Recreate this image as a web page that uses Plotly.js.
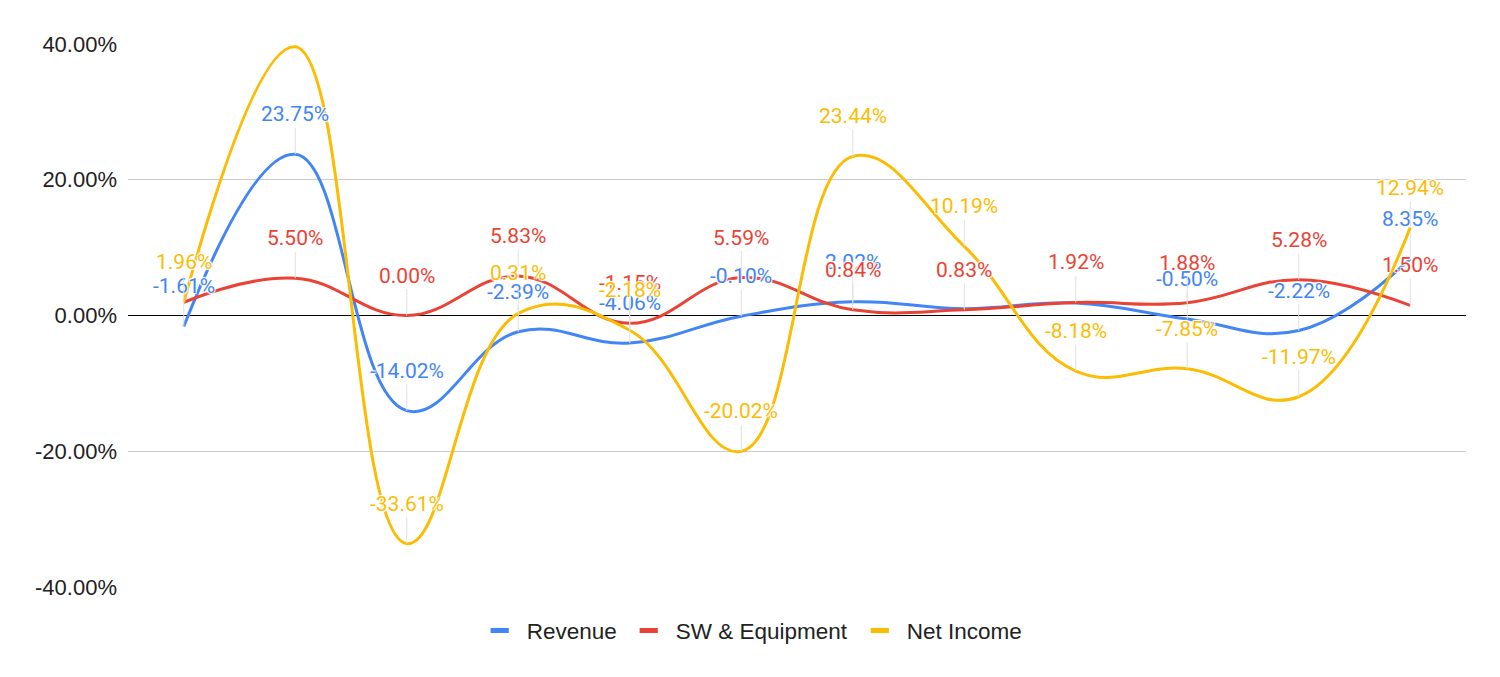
<!DOCTYPE html>
<html>
<head>
<meta charset="utf-8">
<script src="https://cdn.plot.ly/plotly-3.0.1.min.js"></script>
<style>html,body{margin:0;padding:0;background:#fff;}#chart{width:1500px;height:677px;}</style>
</head>
<body>
<div id="chart"></div>
<script>
// ---- data ----
var categories = ["P1","P2","P3","P4","P5","P6","P7","P8","P9","P10","P11","P12"];
var revenue     = [-1.61, 23.75, -14.02, -2.39, -4.06, -0.10, 2.02, 1.00, 1.85, -0.50, -2.22, 8.35];
var swEquipment = [1.95, 5.50, 0.00, 5.83, -1.15, 5.59, 0.84, 0.83, 1.92, 1.88, 5.28, 1.50];
var netIncome   = [1.96, 39.60, -33.61, 0.31, -2.18, -20.02, 23.44, 10.19, -8.18, -7.85, -11.97, 12.94];
var seriesNames = ["Revenue", "SW & Equipment", "Net Income"];
var yTickVals  = [-40, -20, 0, 20, 40];
var yTickText  = ["-40.00%", "-20.00%", "0.00%", "20.00%", "40.00%"];
// indices whose data label is hidden in the original (overlap / off-chart)
var hiddenRevenue = [7, 8];
var hiddenSW = [0];
var hiddenNet = [1];

var colors = ["#4285F4", "#EA4335", "#FBBC04"];
var allSeries = [revenue, swEquipment, netIncome];
var hidden = [hiddenRevenue, hiddenSW, hiddenNet];

var traces = allSeries.map(function(vals, k){
  return {
    type: "scatter", mode: "lines",
    x: categories, y: vals, name: seriesNames[k], showlegend: false,
    line: {color: colors[k], width: 3, shape: "spline", smoothing: 1.2},
    hoverinfo: "skip"
  };
});
// legend-only entries (short thick bar like the original)
seriesNames.forEach(function(n, k){
  traces.push({
    type: "scatter", mode: "markers", x: [null], y: [null], name: n, showlegend: true,
    marker: {symbol: "line-ew", size: 13, color: colors[k], line: {color: colors[k], width: 6}},
    hoverinfo: "skip"
  });
});

var annotations = [];
allSeries.forEach(function(vals, k){
  vals.forEach(function(v, i){
    if (hidden[k].indexOf(i) >= 0) return;
    annotations.push({
      x: categories[i], y: v, xref: "x", yref: "y",
      text: v.toFixed(2) + "%",
      showarrow: true, arrowhead: 0, arrowwidth: 1, arrowcolor: "#e0e0e0",
      ax: 0, ay: -40, standoff: 0,
      font: {family: "Roboto, Arial, sans-serif", size: 21, color: colors[k],
             shadow: "1px 1px 1px #fff, -1px -1px 1px #fff, 1px -1px 1px #fff, -1px 1px 1px #fff"}
    });
  });
});

var layout = {
  width: 1500, height: 677,
  margin: {l: 128, r: 34, t: 44, b: 90},
  paper_bgcolor: "#fff", plot_bgcolor: "#fff",
  showlegend: true,
  legend: {orientation: "h", x: 0.465, xanchor: "center", y: -0.081, yanchor: "middle",
           font: {family: "Arial, Liberation Sans, sans-serif", size: 22.5, color: "#222"},
           itemsizing: "trace", itemwidth: 44, traceorder: "normal"},
  xaxis: {type: "category", range: [-0.5, 11.5], showticklabels: false, showgrid: false,
          zeroline: false, showline: false, ticks: ""},
  yaxis: {range: [-40, 40], tickmode: "array", tickvals: yTickVals, ticktext: yTickText,
          showgrid: true, gridcolor: "#cccccc", gridwidth: 1,
          zeroline: true, zerolinecolor: "#000", zerolinewidth: 1,
          ticks: "", ticklen: 0, showline: false, ticklabelstandoff: 10,
          tickfont: {family: "Arial, Liberation Sans, sans-serif", size: 22, color: "#222"}},
  annotations: annotations
};

Plotly.newPlot("chart", traces, layout, {staticPlot: true, displayModeBar: false});
</script>
</body>
</html>
